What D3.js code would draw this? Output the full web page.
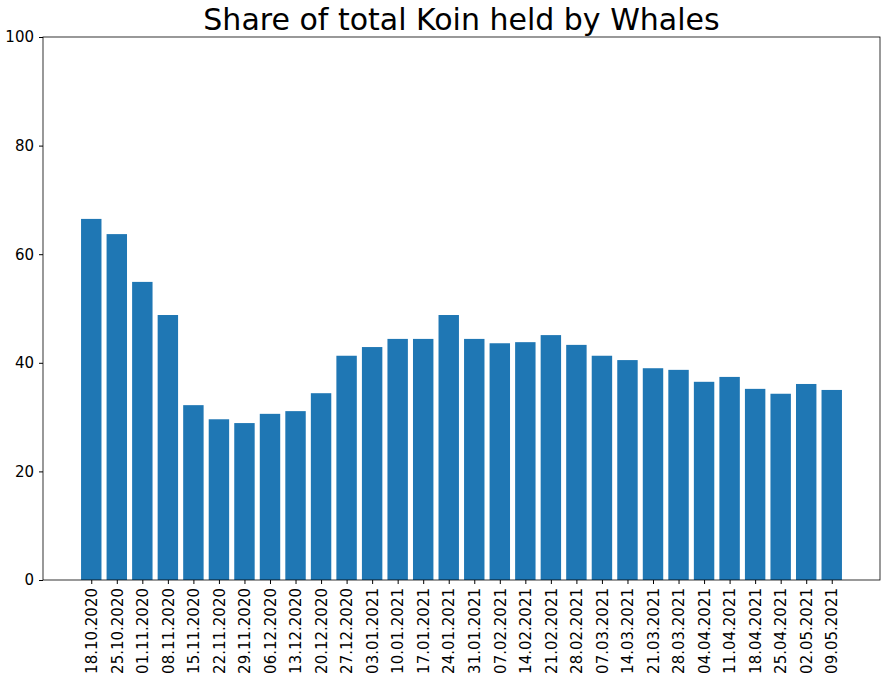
<!DOCTYPE html>
<html><head><meta charset="utf-8">
<script src="https://cdn.jsdelivr.net/npm/d3@7"></script>
<style>body{margin:0;background:#fff}text{font-family:"DejaVu Sans",sans-serif}</style>
</head><body><div id="chart"></div>
<script>
const dates = ["18.10.2020","25.10.2020","01.11.2020","08.11.2020","15.11.2020","22.11.2020","29.11.2020","06.12.2020","13.12.2020","20.12.2020","27.12.2020","03.01.2021","10.01.2021","17.01.2021","24.01.2021","31.01.2021","07.02.2021","14.02.2021","21.02.2021","28.02.2021","07.03.2021","14.03.2021","21.03.2021","28.03.2021","04.04.2021","11.04.2021","18.04.2021","25.04.2021","02.05.2021","09.05.2021"];
const shares = [66.5,63.7,54.9,48.8,32.2,29.6,28.9,30.6,31.1,34.4,41.3,42.9,44.4,44.4,48.8,44.4,43.6,43.8,45.1,43.3,41.3,40.5,39.0,38.7,36.5,37.4,35.2,34.3,36.1,35.0];
const yTicks = [0,20,40,60,80,100];

const W = 886, H = 680, L = 43, R = 880, T = 37, B = 580;
const svg = d3.select("#chart").append("svg").attr("width", W).attr("height", H);

const n = dates.length, pad = (n - 1 + 0.8) * 0.05 + 0.4;
const x = d3.scaleLinear().domain([-pad, n - 1 + pad]).range([L, R]);
const y = d3.scaleLinear().domain([0, 100]).range([B, T]);
const bw = x(0.8) - x(0);

svg.append("g").selectAll("rect").data(shares).join("rect")
  .attr("x", (d, i) => x(i - 0.4)).attr("width", bw)
  .attr("y", d => y(d)).attr("height", d => B - y(d))
  .attr("fill", "#1f77b4");

svg.append("rect").attr("x", L).attr("y", T).attr("width", R - L).attr("height", B - T)
  .attr("fill", "none").attr("stroke", "#000").attr("stroke-width", 0.8);

const ya = svg.append("g").attr("transform", `translate(${L},0)`)
  .call(d3.axisLeft(y).tickValues(yTicks).tickSize(4).tickPadding(5));
ya.select(".domain").remove();
ya.selectAll("text").attr("font-size", 15).attr("fill", "#000").style("font-family", "DejaVu Sans");

const xa = svg.append("g").attr("transform", `translate(0,${B})`)
  .call(d3.axisBottom(x).tickValues(d3.range(n)).tickFormat(i => dates[i]).tickSize(4));
xa.select(".domain").remove();
xa.selectAll("text").attr("font-size", 15).attr("fill", "#000").style("font-family", "DejaVu Sans")
  .attr("transform", "rotate(-90)").attr("text-anchor", "end")
  .attr("x", -8).attr("y", 0).attr("dy", "0.35em");

svg.append("text").attr("x", (L + R) / 2).attr("y", 30).attr("text-anchor", "middle")
  .attr("font-size", 30).text("Share of total Koin held by Whales");
</script></body></html>
